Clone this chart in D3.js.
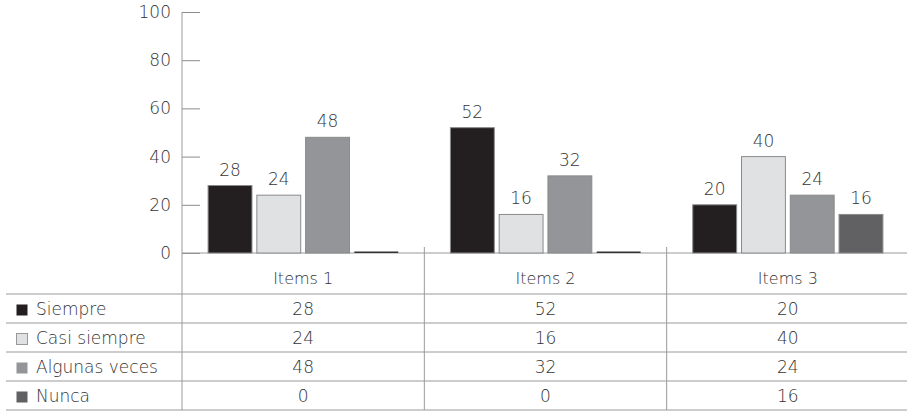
<!DOCTYPE html>
<html>
<head>
<meta charset="utf-8">
<script src="https://cdn.jsdelivr.net/npm/d3@7"></script>
<style>
  body { margin: 0; background: #fff; }
  text { font-family: "DejaVu Sans", sans-serif; font-weight: 200; fill: #333; }
</style>
</head>
<body>
<script>
// datos
const items = ["Items 1", "Items 2", "Items 3"];
const series = ["Siempre", "Casi siempre", "Algunas veces", "Nunca"];
const siempre = [28, 52, 20];
const casiSiempre = [24, 16, 40];
const algunasVeces = [48, 32, 24];
const nunca = [0, 0, 16];
const yTicks = [0, 20, 40, 60, 80, 100];
const colores = ["#231f20", "#e0e1e3", "#939598", "#616163"];

const valores = [siempre, casiSiempre, algunasVeces, nunca];

const width = 907, height = 411;
const axisX = 182, baseY = 253, topY = 12;
const rowH = 29;
const headerBottom = 294;
const fs = "17px";

const svg = d3.select("body").append("svg")
    .attr("width", width)
    .attr("height", height);

// escalas
const x = d3.scaleBand().domain(items).range([axisX, 909]);
const xs = d3.scaleBand().domain(series).range([0, x.bandwidth()])
    .paddingInner(0.1).paddingOuter(0.535);
const y = d3.scaleLinear().domain([0, 100]).range([baseY, topY]);
const color = d3.scaleOrdinal().domain(series).range(colores);

// eje y
const gy = svg.append("g")
    .attr("transform", `translate(${axisX},0)`)
    .call(d3.axisRight(y).tickValues(yTicks).tickSize(18).tickFormat(d => d));
gy.select(".domain").remove();
gy.selectAll(".tick line").attr("stroke", "#8c8c8c");
gy.selectAll(".tick text")
    .attr("x", -11)
    .attr("text-anchor", "end")
    .style("font-size", fs)
    .style("font-family", null);

// lineas
const lineColor = "#9a9a9a";
svg.append("line")
    .attr("x1", axisX).attr("x2", axisX)
    .attr("y1", topY).attr("y2", headerBottom + rowH * 4)
    .attr("stroke", lineColor);
svg.append("line")
    .attr("x1", axisX).attr("x2", width)
    .attr("y1", baseY).attr("y2", baseY)
    .attr("stroke", lineColor);
items.slice(1).forEach(it => {
    svg.append("line")
        .attr("x1", x(it)).attr("x2", x(it))
        .attr("y1", baseY - 6).attr("y2", headerBottom + rowH * 4)
        .attr("stroke", lineColor);
});
d3.range(5).forEach(i => {
    svg.append("line")
        .attr("x1", 6).attr("x2", width)
        .attr("y1", headerBottom + rowH * i).attr("y2", headerBottom + rowH * i)
        .attr("stroke", lineColor);
});

// barras
const datos = [];
series.forEach((s, si) => {
    items.forEach((it, ii) => {
        datos.push({ serie: s, item: it, valor: valores[si][ii] });
    });
});

svg.selectAll("rect.bar")
    .data(datos)
    .enter()
    .append("rect")
    .attr("class", "bar")
    .attr("x", d => x(d.item) + xs(d.serie))
    .attr("y", d => d.valor > 0 ? y(d.valor) : baseY - 1.5)
    .attr("width", xs.bandwidth())
    .attr("height", d => d.valor > 0 ? baseY - y(d.valor) : 1.5)
    .attr("fill", d => d.valor > 0 ? color(d.serie) : "#333")
    .attr("stroke", d => d.valor > 0 ? "#8a8a8a" : "none")
    .attr("stroke-width", 1);

svg.selectAll("text.val")
    .data(datos.filter(d => d.valor > 0))
    .enter()
    .append("text")
    .attr("class", "val")
    .attr("x", d => x(d.item) + xs(d.serie) + xs.bandwidth() / 2)
    .attr("y", d => y(d.valor) - 10)
    .attr("text-anchor", "middle")
    .style("font-size", fs)
    .text(d => d.valor);

// tabla
svg.selectAll("text.head")
    .data(items)
    .enter()
    .append("text")
    .attr("class", "head")
    .attr("x", d => x(d) + x.bandwidth() / 2)
    .attr("y", baseY + 31)
    .attr("text-anchor", "middle")
    .style("font-size", "16px")
    .text(d => d);

series.forEach((s, si) => {
    const rowY = headerBottom + rowH * si;
    svg.append("rect")
        .attr("x", 16.5).attr("y", rowY + 10.5)
        .attr("width", 11).attr("height", 11)
        .attr("fill", color(s))
        .attr("stroke", si === 1 ? "#999" : "none");
    svg.append("text")
        .attr("x", 36)
        .attr("y", rowY + 21)
        .style("font-size", fs)
        .text(s);
    items.forEach((it, ii) => {
        svg.append("text")
            .attr("x", x(it) + x.bandwidth() / 2)
            .attr("y", rowY + 21)
            .attr("text-anchor", "middle")
            .style("font-size", fs)
            .text(valores[si][ii]);
    });
});
</script>
</body>
</html>
